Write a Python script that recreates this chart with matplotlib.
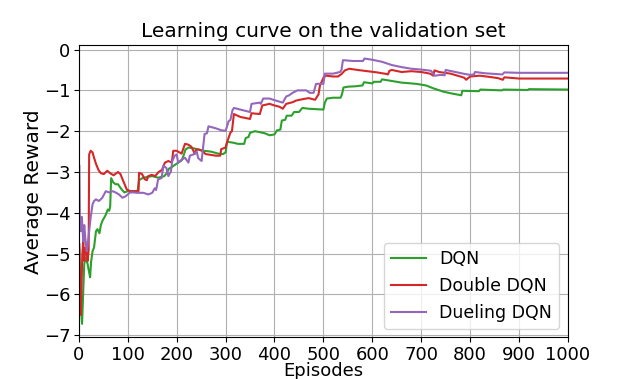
import matplotlib
matplotlib.use("Agg")
import matplotlib.pyplot as plt

# DQN (green)
dqn_ep = [1, 3, 6.5, 9, 11, 14, 18, 20, 23, 25, 28, 31, 35, 38, 42, 45, 48, 55, 59, 62, 64, 66, 70, 75, 80, 87, 93, 100, 110, 120,
          123, 130, 140, 150, 162, 175, 180, 184, 190, 197, 203, 210, 214, 218, 224, 235, 245, 255, 270, 285, 295, 300,
          303, 315, 325, 338, 341, 347, 350, 360, 380, 390, 400, 405, 412, 415, 422, 425, 435, 440, 450, 457, 470, 485, 500,
          503, 507, 520, 535, 538, 541, 550, 565, 580, 583, 600, 603, 617, 620, 640, 660, 690, 710, 725, 745, 760, 782,
          784, 818, 821, 865, 868, 918, 920, 1000]
dqn_val = [-4.9, -6.1, -6.72, -5.9, -5.25, -5.1, -5.26, -5.4, -5.58, -5.2, -4.94, -4.85, -4.45, -4.4, -4.5, -4.3, -4.2, -4.05, -3.92, -3.95, -3.85, -3.15, -3.25, -3.3, -3.3, -3.42, -3.5, -3.47, -3.47, -3.47,
           -3.2, -3.15, -3.12, -3.1, -3.14, -3.1, -3.02, -2.92, -2.88, -2.82, -2.77, -2.72, -2.6, -2.45, -2.4, -2.42, -2.45, -2.48, -2.5, -2.55, -2.56, -2.52,
           -2.26, -2.28, -2.31, -2.31, -2.17, -2.14, -2.04, -2.0, -2.05, -2.1, -2.08, -1.98, -1.96, -1.74, -1.72, -1.62, -1.62, -1.53, -1.53, -1.43, -1.45, -1.46, -1.47,
           -1.3, -1.2, -1.18, -1.18, -1.1, -0.93, -0.91, -0.9, -0.88, -0.8, -0.83, -0.79, -0.79, -0.73, -0.77, -0.81, -0.84, -0.88, -0.95, -1.03, -1.07, -1.12,
           -1.01, -1.02, -0.98, -1.0, -0.98, -0.99, -0.97, -0.98]

# Double DQN (red)
ddqn_ep = [1, 2, 3.4, 5, 7, 9, 11, 13, 16, 18, 20, 21, 24, 28, 31, 35, 40, 45, 51, 58, 64, 71, 80, 85, 90, 98, 105, 115, 122,
           123, 129, 135, 139, 142, 149, 156, 163, 170, 173, 176, 183, 190, 193, 200, 210, 217, 224, 230, 235, 237, 240, 245,
           252, 259, 280, 289, 291, 300, 303, 310, 313, 317, 330, 350, 353, 370, 375, 390, 400, 410, 417, 424, 437, 444, 460,
           470, 483, 490, 493, 501, 506, 520, 530, 537, 544, 553, 570, 590, 610, 630, 632, 635, 640, 660, 680, 700, 718, 725,
           727, 737, 760, 780, 788, 792, 800, 820, 840, 857, 867, 870, 900, 1000]
ddqn_val = [-4.77, -5.75, -6.5, -6.0, -5.02, -4.69, -5.18, -4.86, -5.0, -5.18, -4.9, -2.57, -2.48, -2.52, -2.65, -2.8, -2.95, -3.03, -3.05, -2.97, -3.03, -3.08, -3.0, -3.05, -3.2, -3.43, -3.47, -3.47, -3.47,
            -3.02, -3.05, -3.18, -3.2, -3.1, -3.07, -3.1, -3.0, -2.95, -2.85, -2.77, -2.73, -2.77, -2.48, -2.48, -2.55, -2.31, -2.33, -2.38, -2.5, -2.56, -2.45, -2.45,
            -2.48, -2.56, -2.6, -2.6, -2.44, -2.4, -2.27, -2.03, -2.0, -1.58, -1.65, -1.7, -1.56, -1.58, -1.37, -1.33, -1.37, -1.4, -1.45, -1.33, -1.29, -1.25, -1.21,
            -1.19, -1.23, -1.1, -0.88, -0.67, -0.64, -0.66, -0.66, -0.6, -0.51, -0.47, -0.5, -0.53, -0.56, -0.6, -0.61, -0.52, -0.5, -0.55, -0.53, -0.55, -0.59, -0.64,
            -0.51, -0.55, -0.59, -0.66, -0.69, -0.74, -0.66, -0.64, -0.67, -0.7, -0.74, -0.68, -0.71, -0.71]

# Dueling DQN (purple)
duel_ep = [1, 2, 4, 6, 9, 11, 13, 16, 18, 21, 24, 28, 31, 35, 41, 48, 55, 62, 69, 75, 82, 89, 95, 100, 105, 112, 118, 125, 132,
           142, 150, 155, 158, 162, 169, 173, 179, 183, 186, 188, 191, 196, 200, 203, 210, 217, 224, 227, 234, 241, 244, 248,
           251, 254, 257, 262, 265, 280, 292, 300, 303, 306, 310, 314, 317, 330, 350, 353, 370, 372, 377, 390, 400, 417, 424,
           430, 437, 447, 465, 472, 480, 485, 500, 503, 520, 534, 537, 540, 560, 581, 584, 600, 620, 640, 660, 680, 700, 720,
           725, 728, 740, 748, 750, 770, 790, 800, 808, 810, 830, 866, 870, 900, 1000]
duel_val = [-2.85, -4.12, -4.45, -4.1, -4.7, -4.3, -4.6, -4.94, -4.8, -4.45, -4.12, -3.79, -3.71, -3.67, -3.71, -3.63, -3.47, -3.5, -3.47, -3.5, -3.55, -3.63, -3.6, -3.55, -3.5, -3.5, -3.51, -3.51, -3.51,
            -3.55, -3.51, -3.4, -3.44, -3.18, -3.15, -2.85, -2.9, -3.1, -3.03, -3.0, -2.73, -2.6, -2.57, -2.77, -2.7, -2.65, -2.77, -2.6, -2.57, -2.5, -2.66, -2.7,
            -2.73, -2.4, -2.07, -2.05, -1.88, -1.93, -1.98, -1.99, -1.88, -1.76, -1.72, -1.49, -1.43, -1.47, -1.53, -1.33, -1.3, -1.33, -1.2, -1.2, -1.24, -1.3, -1.15,
            -1.12, -1.06, -1.0, -1.0, -1.06, -1.06, -0.84, -0.84, -0.59, -0.59, -0.55, -0.5, -0.26, -0.28, -0.28, -0.22, -0.25, -0.3, -0.38, -0.43, -0.47, -0.49, -0.52,
            -0.6, -0.64, -0.62, -0.63, -0.5, -0.55, -0.6, -0.62, -0.61, -0.55, -0.58, -0.61, -0.56, -0.57, -0.57]

labels = ["DQN", "Double DQN", "Dueling DQN"]
colors = ["#2ca02c", "#d62728", "#9467bd"]

fig, ax = plt.subplots(figsize=(6.31, 3.79), dpi=100)
ax.plot(dqn_ep, dqn_val, color=colors[0], lw=1.5, label=labels[0])
ax.plot(ddqn_ep, ddqn_val, color=colors[1], lw=1.5, label=labels[1])
ax.plot(duel_ep, duel_val, color=colors[2], lw=1.5, label=labels[2])

ax.set_xlim(0, 1000)
ax.set_ylim(-7.05, 0.1)
ax.set_xticks(range(0, 1001, 100))
ax.set_yticks(range(-7, 1))
ax.tick_params(labelsize=13, pad=2.5)
ax.grid(True)
ax.set_title("Learning curve on the validation set", fontsize=14.5)
ax.set_xlabel("Episodes", fontsize=13, labelpad=-1)
ax.set_ylabel("Average Reward", fontsize=14.5, labelpad=1)
ax.legend(loc="lower right", fontsize=12.5)

fig.savefig("out.png", dpi=100)
